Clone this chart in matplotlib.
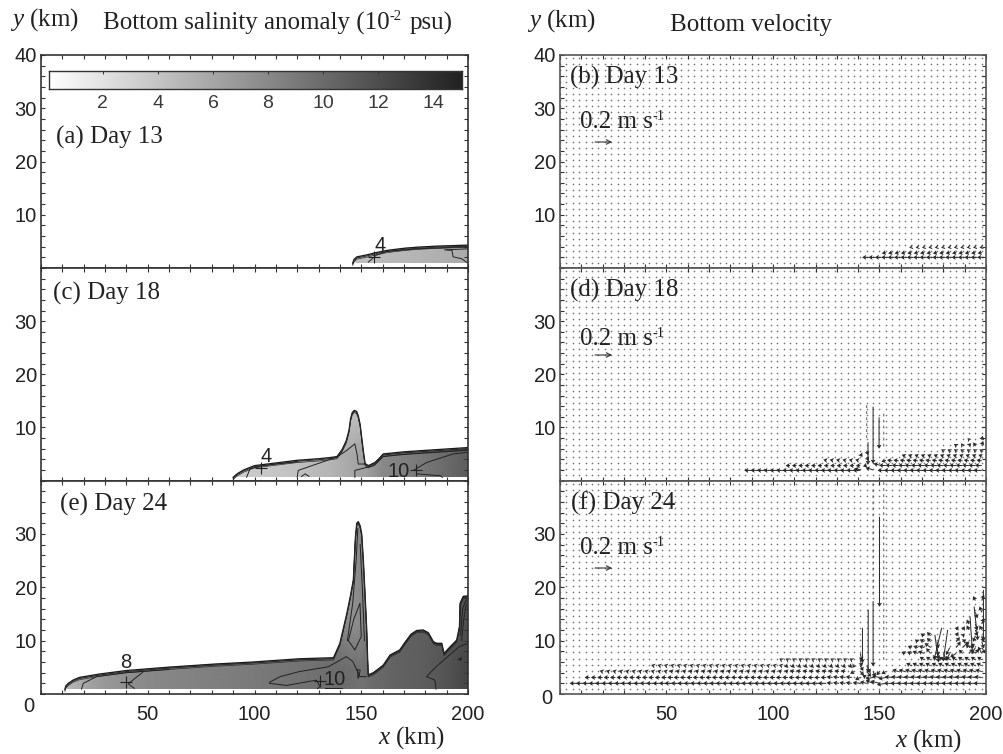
import numpy as np
import matplotlib
matplotlib.use("Agg")
import matplotlib.pyplot as plt
from matplotlib.colors import LinearSegmentedColormap
from matplotlib.patches import Polygon

W, H = 1004, 754
SERIF = "Liberation Serif"
SANS = "Liberation Sans"

plt.rcParams["font.family"] = SANS
plt.rcParams["mathtext.fontset"] = "custom"
plt.rcParams["mathtext.rm"] = SERIF
plt.rcParams["mathtext.it"] = SERIF + ":italic"

# plume outlines, km
a_bx = [146, 146.6, 148, 150, 153, 157, 162, 170, 176, 185, 200]
a_by = [0.9, 1.6, 2.1, 2.25, 2.5, 2.9, 3.3, 3.7, 3.9, 4.1, 4.3]
c_bx = [90, 92, 95, 100, 110, 120, 130, 135, 138.6, 141, 143, 144.3, 145, 145.8, 146.8, 147.8, 148.6, 149.5, 150.2,
        151, 151.8, 153.3, 156.5, 158.5, 160.3, 170, 185, 200]
c_by = [0.6, 1.3, 2.0, 2.8, 3.3, 3.8, 4.1, 4.3, 4.5, 5.8, 7.5, 9.5, 11.6, 12.8, 13.2, 13.0, 12.2, 10.5, 8.1,
        5.5, 3.2, 2.8, 3.4, 4.2, 5.0, 5.4, 5.8, 6.2]
e_bx = [11.2, 11.6, 12.8, 15, 18, 27.6, 40, 59, 81, 99.5, 121, 137, 140, 143.2, 145, 146.3, 146.8, 147.3, 147.9,
        148.6, 149.5, 150.2, 151, 151.8, 152.5, 153, 153.3, 155.7, 160.3, 163.5, 168, 170.2, 173.3, 176, 179, 181.4,
        183.8, 185.3, 187.7, 188.8, 190.8, 194.7, 196, 196.3, 197.8, 200]
e_by = [0.9, 1.5, 2.0, 2.6, 3.1, 3.75, 4.4, 5.0, 5.6, 6.0, 6.6, 6.8, 9.5, 15, 18.5, 21.4, 25.5, 29.5, 32,
        32.3, 31.5, 30, 25, 18.5, 12.6, 6.5, 3.6, 4.0, 5.4, 7.3, 8.25, 9.5, 11.2, 11.9, 12, 11.5,
        9.8, 9.5, 9.5, 7.6, 8.5, 10.1, 12.6, 17, 18.3, 18.4]

# salinity anomaly along the plume (low = near the coast, high = up in the jets)
a_sx = [140, 150, 160, 175, 190, 200]
a_low = [4.2, 4.3, 4.6, 5.0, 5.4, 5.8]
c_sx = [88, 100, 120, 135, 146, 152, 160, 180, 200]
c_low = [3.2, 3.6, 4.2, 5.0, 6.0, 6.5, 8.0, 9.2, 11.0]
c_high = [3.2, 3.6, 4.2, 4.5, 4.0, 4.5, 8.0, 9.2, 11.0]
e_sx = [10, 20, 30, 50, 75, 100, 125, 140, 145, 150, 155, 165, 180, 190, 200]
e_low = [4.5, 6.0, 7.0, 8.0, 8.5, 9.0, 9.6, 10.0, 9.8, 9.6, 10.0, 10.6, 11.0, 11.6, 12.6]
e_high = [4.5, 6.0, 7.0, 8.0, 8.5, 9.0, 9.6, 8.5, 7.5, 8.0, 9.5, 10.6, 11.0, 11.4, 12.0]

# inner contours
a_lines = [
    ([153.3, 157, 162, 176, 200], [1.1, 2.4, 3.1, 3.6, 4.0]),
    ([189, 200], [3.4, 3.6]),
    ([190, 192.5, 193, 197, 200], [3.4, 3.3, 2.1, 1.75, 0.9]),
]
c_lines = [
    ([96.3, 97.9, 102.6, 110, 120], [0.6, 2.2, 2.7, 3.1, 3.5]),
    ([120, 120.5, 129.1, 138.5, 143, 147, 148, 148.6, 151.8], [0.6, 1.9, 3.1, 4.4, 5.6, 6.9, 5, 3.1, 3.1]),
    ([122, 123.7, 125.5], [0.75, 1.25, 0.8]),
    ([147, 147, 155.9, 160.3, 170, 185, 200], [0.6, 1.9, 2.8, 4.5, 4.9, 5.3, 5.7]),
    ([174.4, 180.7, 193, 199.5], [1.9, 3.4, 5, 5.3]),
    ([176, 187, 188], [1.25, 0.9, 0.6]),
]
e_lines = [
    ([19, 19.8, 26, 40, 60], [0.9, 2.0, 3.25, 4.0, 4.6]),
    ([43.7, 40.9, 43, 48], [1.06, 1.9, 2.6, 4.2]),
    ([107, 112, 121, 134.6, 143, 146, 149.4, 152.5], [2.2, 3.25, 4.2, 5.1, 7, 6.1, 3.25, 3.25]),
    ([107, 115, 129, 130.7, 129.5], [2.0, 1.6, 2.6, 1.4, 1.0]),
    ([133, 141], [1.05, 1.05]),
    ([144, 146.5, 149.4, 150, 147, 144], [10, 14, 17, 10.75, 8.25, 10]),
    ([148.2, 148.4, 148.5, 149, 149.5, 148.2], [4.5, 3.5, 2.9, 3.5, 4.5, 4.5]),
    ([143.5, 146, 147.6, 148.4], [10, 17, 25, 31]),
    ([149.5, 150.5, 151.5], [28, 20, 10]),
    ([180.6, 185, 196, 200], [3.25, 5.1, 8.9, 9.5]),
    ([180.6, 184.5, 185], [3.25, 2.6, 0.9]),
    ([195.5, 196.5, 197, 195.5], [6.5, 6.3, 6.8, 6.5]),
    ([197, 198, 199, 200], [10, 14, 16.5, 17]),
    ([196.5, 197.5, 199, 200], [11, 16, 17.5, 17.8]),
]

# contour labels: text, text x, text y, cross x, cross y
a_marks = [("4", 158.8, 4.3, 156, 2.1)]
c_marks = [("4", 105.4, 4.5, 103, 2.4), ("10", 167.7, 1.75, 175.6, 2.0)]
e_marks = [("8", 39.8, 5.9, 40, 2.3), ("10", 137.4, 2.75, 130.7, 2.5)]

# velocity stretches: row y, first x, last x, u, v (m/s)
b_bands = [
    (2.0, 145, 200, -0.09, 0.0),
    (2.9, 153, 200, -0.055, -0.012),
    (3.9, 165, 200, -0.03, -0.006),
]
d_bands = [
    (1.9, 90, 141, -0.10, 0.0),
    (2.8, 108, 141, -0.06, 0.0),
    (3.8, 125, 141, -0.04, 0.008),
    (1.9, 153, 200, -0.11, 0.0),
    (2.8, 153, 200, -0.09, 0.005),
    (3.7, 156, 200, -0.07, 0.012),
    (4.6, 162, 200, -0.045, 0.018),
    (5.6, 180, 200, -0.03, 0.02),
]
f_bands = [
    (2.0, 8, 50, -0.10, 0.0),
    (2.0, 53, 125, -0.11, 0.0),
    (2.0, 128, 138, -0.08, 0.01),
    (2.0, 156, 200, -0.11, 0.0),
    (3.1, 14, 50, -0.07, 0.0),
    (3.1, 53, 125, -0.075, 0.0),
    (3.1, 128, 138, -0.08, 0.01),
    (3.1, 156, 200, -0.10, 0.01),
    (4.2, 20, 50, -0.04, 0.012),
    (4.2, 53, 107, -0.05, 0.012),
    (4.2, 110, 135, -0.06, 0.015),
    (4.2, 159, 200, -0.085, 0.025),
    (5.3, 44, 104, -0.035, 0.01),
    (5.3, 107, 138, -0.05, -0.015),
    (5.3, 165, 200, -0.07, 0.035),
    (6.4, 104, 137, -0.03, 0.018),
    (6.4, 171, 200, -0.06, 0.04),
]

# single arrows around the jets
d_x = [147, 149.8, 144.6, 141, 144, 147, 150, 144, 153, 144, 141,
       186, 189, 192, 195, 198, 192, 198]
d_y = [13.9, 11.9, 7.2, 2.0, 2.9, 2.0, 2.9, 4.4, 3.8, 5.6, 5.0,
       6.6, 6.6, 6.6, 6.6, 6.6, 7.7, 7.7]
d_u = [0.0, 0.0, 0.0, -0.08, -0.05, -0.1, -0.08, 0.03, -0.06, 0.02, 0.03,
       -0.03, -0.02, 0.03, -0.03, 0.02, -0.02, 0.015]
d_v = [-0.76, -0.42, -0.3, 0.02, -0.02, 0.03, 0.02, -0.05, -0.02, -0.06, -0.04,
       0.02, 0.03, 0.03, 0.04, 0.06, 0.02, 0.05]

f_x = [150, 147, 144.7, 142, 176, 179.2, 182, 192.5, 194.4, 198.8,
       138, 138, 141, 141, 141, 141, 141, 141, 144, 144, 144, 144,
       147, 147, 147, 150, 150, 150, 153, 153, 153]
f_y = [33.2, 17.4, 15.8, 12.4, 11.1, 12.4, 12.0, 14.5, 16.4, 19.5,
       4.2, 5.3, 2.0, 3.1, 4.2, 5.3, 6.4, 7.6, 2.0, 3.1, 4.2, 5.3,
       2.0, 3.1, 4.2, 2.0, 3.1, 4.2, 2.0, 3.1, 4.2]
f_u = [0.0, 0.0, 0.0, 0.0, 0.05, -0.1, -0.06, 0.03, 0.05, 0.0,
       -0.05, -0.02, -0.1, -0.07, 0.05, 0.04, 0.02, 0.02, -0.09, -0.06, 0.06, 0.05,
       -0.1, -0.1, 0.03, -0.12, -0.1, -0.04, -0.12, -0.1, -0.06]
f_v = [-1.2, -0.87, -0.84, -0.47, -0.37, -0.42, -0.42, -0.44, -0.45, -0.68,
       -0.03, -0.03, 0.01, -0.03, -0.05, -0.07, -0.09, -0.1, 0.02, 0.03, -0.07, -0.1,
       0.04, -0.02, -0.07, 0.03, 0.02, -0.05, -0.02, -0.02, -0.03]

f2_x = [162, 165, 168, 171, 174, 177, 180, 183, 186, 189, 192, 195, 198,
        165, 168, 171, 174, 177, 183, 186, 189, 192, 195, 198,
        168, 171, 174, 177, 186, 189, 192, 198,
        171, 174, 186, 189, 195, 198,
        186, 189, 192, 195, 198,
        192, 195, 198,
        195, 198, 198, 195]
f2_y = [7.6, 7.6, 7.6, 7.6, 7.6, 7.6, 7.6, 7.6, 7.6, 7.6, 7.6, 7.6, 7.6,
        8.7, 8.7, 8.7, 8.7, 8.7, 8.7, 8.7, 8.7, 8.7, 8.7, 8.7,
        9.8, 9.8, 9.8, 9.8, 9.8, 9.8, 9.8, 9.8,
        10.9, 10.9, 10.9, 10.9, 10.9, 10.9,
        12.0, 12.0, 12.0, 12.0, 12.0,
        13.1, 13.1, 13.1,
        15.3, 15.3, 17.5, 17.5]
f2_u = [-0.05, -0.06, -0.07, -0.08, -0.06, 0.03, 0.04, -0.05, -0.08, -0.05, 0.06, 0.05, -0.05,
        -0.05, -0.06, -0.07, -0.08, 0.02, -0.05, 0.06, 0.08, 0.08, -0.05, 0.05,
        -0.04, -0.06, -0.05, 0.02, 0.05, 0.05, -0.03, 0.03,
        -0.05, -0.05, 0.03, 0.03, -0.03, 0.03,
        0.03, 0.03, -0.03, 0.03, -0.03,
        -0.03, 0.03, 0.03,
        0.03, -0.03, 0.03, -0.03]
f2_v = [0.02, 0.02, 0.03, 0.03, 0.07, -0.08, -0.1, -0.09, -0.05, 0.05, 0.06, 0.06, 0.09,
        0.02, 0.02, 0.02, 0.06, -0.11, -0.1, 0.08, 0.08, 0.05, -0.09, -0.08,
        0.03, 0.03, 0.05, -0.09, 0.06, 0.03, -0.09, -0.09,
        0.03, 0.05, 0.05, 0.03, -0.08, -0.08,
        0.05, 0.05, 0.06, -0.08, 0.06,
        0.06, -0.08, 0.08,
        -0.08, 0.08, 0.08, 0.06]

# slow vertical columns above the jets: x, first y, last y, v
f_cols = [(147, 18.6, 40, 0.04), (152, 6.4, 40, 0.04)]
d_cols = [(144, 8, 14, 0.04), (152, 6.4, 13, 0.04)]

panel_rows = [(55, 268), (268, 480.5), (480.5, 694)]
cbar_ticks = [2, 4, 6, 8, 10, 12, 14]

cmap = LinearSegmentedColormap.from_list("bottom_salt", ["#ffffff", "#222222"])

fig = plt.figure(figsize=(W / 100, H / 100), dpi=100, facecolor="white")


def px_axes(x0, x1, y0, y1):
    return fig.add_axes([x0 / W, 1 - y1 / H, (x1 - x0) / W, (y1 - y0) / H])


def px_text(x, y, s, size=18, ha="left", family=SERIF, color="#222222"):
    fig.text(x / W, 1 - y / H, s, fontsize=size, ha=ha, va="center", family=family, color=color)


def style_axes(ax, y_labels, x_text, spine):
    ax.set_xlim(0, 200)
    ax.set_ylim(0, 40)
    ax.set_xticks(np.arange(0, 201, 10))
    ax.set_yticks(np.arange(0, 41, 2))
    ax.set_xticklabels([str(v) if x_text and v in (50, 100, 150, 200) else "" for v in range(0, 201, 10)])
    ax.set_yticklabels([str(v) if v in y_labels else "" for v in range(0, 41, 2)])
    ax.tick_params(axis="both", direction="in", length=3.2, width=0.8, top=True, right=True,
                   labelsize=14.5, color="#333333", labelcolor="#222222")
    ax.tick_params(axis="x", pad=8)
    ax.tick_params(axis="y", pad=3)
    for s in ax.spines.values():
        s.set_color(spine)
        s.set_linewidth(1.2)
        s.set_zorder(5)


def draw_plume(ax, bx, by, base, sx, low, high, lines, marks):
    outline = list(zip(bx, by)) + [(bx[-1], base), (bx[0] - 2.5, base)]
    mesh = ax.pcolormesh(sx, [0, 5, 13, 40], [low, low, high, high], shading="gouraud",
                         cmap=cmap, vmin=0, vmax=15)
    mesh.set_clip_path(Polygon(outline, transform=ax.transData))
    bx = np.array(bx)
    by = np.array(by)
    ax.plot(bx, by, color="#1c1c1c", lw=0.95)
    ax.plot(bx, by - 0.2, color="#222222", lw=0.6)
    ax.plot(bx, by - 0.42, color="#2a2a2a", lw=0.5)
    for lx, ly in lines:
        ax.plot(lx, ly, color="#222222", lw=0.7)
    for label, tx, ty, cx, cy in marks:
        ax.text(tx, ty, label, fontsize=14.5, ha="center", va="center", color="#222222")
        ax.plot(cx, cy, marker="+", ms=9, mew=0.8, color="#222222")


def draw_velocity(ax, bands, cols, vx, vy, vu, vv):
    # every point of the model grid gets a dot
    gx, gy = np.meshgrid(np.arange(0, 201, 3), np.arange(1.0, 40, 1.13))
    ax.scatter(gx.ravel(), gy.ravel(), s=1.5, color="#777777", linewidths=0)
    qx, qy, qu, qv = list(vx), list(vy), list(vu), list(vv)
    for row, x0, x1, u, v in bands:
        xs = np.arange(x0, x1 + 0.1, 3)
        qx += list(xs)
        qy += [row] * len(xs)
        qu += [u] * len(xs)
        qv += [v] * len(xs)
    # 0.2 m/s is drawn 15 pixels long whatever the axes aspect is
    ax.quiver(qx, qy, qu, qv, angles="uv", scale_units="dots", scale=0.2 / 15, units="dots",
              width=1.0, headwidth=5, headlength=4, headaxislength=3.4, minshaft=0.6,
              color="#2a2a2a", zorder=3)
    # the slow columns read as plain dashes
    for col, y0, y1, v in cols:
        ys = np.arange(y0, y1 + 0.1, 1.13)
        ax.quiver([col] * len(ys), ys, [0.0] * len(ys), [v] * len(ys), angles="uv", scale_units="dots",
                  scale=0.2 / 15, units="dots", width=1.0, headwidth=1, headlength=0.5, headaxislength=0.5,
                  color="#555555", zorder=3)


# left column
ax_a = px_axes(41, 468, *panel_rows[0])
ax_c = px_axes(41, 468, *panel_rows[1])
ax_e = px_axes(41, 468, *panel_rows[2])
draw_plume(ax_a, a_bx, a_by, 0.9, a_sx, a_low, a_low, a_lines, a_marks)
draw_plume(ax_c, c_bx, c_by, 0.6, c_sx, c_low, c_high, c_lines, c_marks)
draw_plume(ax_e, e_bx, e_by, 0.9, e_sx, e_low, e_high, e_lines, e_marks)
style_axes(ax_a, [10, 20, 30, 40], False, "#333333")
style_axes(ax_c, [10, 20, 30], False, "#333333")
style_axes(ax_e, [10, 20, 30], True, "#333333")

# right column
ax_b = px_axes(560, 986, *panel_rows[0])
ax_d = px_axes(560, 986, *panel_rows[1])
ax_f = px_axes(560, 986, *panel_rows[2])
draw_velocity(ax_b, b_bands, [], [], [], [], [])
draw_velocity(ax_d, d_bands, d_cols, d_x, d_y, d_u, d_v)
draw_velocity(ax_f, f_bands, f_cols, f_x + f2_x, f_y + f2_y, f_u + f2_u, f_v + f2_v)
style_axes(ax_b, [10, 20, 30, 40], False, "#555555")
style_axes(ax_d, [10, 20, 30], False, "#555555")
style_axes(ax_f, [10, 20, 30], True, "#555555")

# colour bar inside panel (a)
cax = px_axes(49, 462, 70.5, 89)
cax.imshow(np.linspace(0.04, 15.05, 256)[None, :], extent=[0.04, 15.05, 0, 1], aspect="auto",
           cmap=cmap, vmin=0, vmax=15)
cax.set_yticks([])
cax.set_xticks(cbar_ticks)
cax.set_xticklabels([str(t) for t in cbar_ticks])
cax.tick_params(axis="x", direction="in", length=2.2, width=0.7, top=True, bottom=False, pad=4,
                labelsize=14, color="#333333", labelcolor="#3a3a3a")
for s in cax.spines.values():
    s.set_color("#333333")
    s.set_linewidth(1.0)

# headers
px_text(10, 20, r"$\mathit{y}$ (km)", 18)
px_text(103, 23, "Bottom salinity anomaly (10", 18)
px_text(390, 16, "-2", 10.5)
px_text(410, 23, "psu)", 18)
px_text(527, 21, r"$\mathit{y}$ (km)", 18)
px_text(670, 25, "Bottom velocity", 18)
px_text(378, 738, r"$\mathit{x}$ (km)", 18)
px_text(895, 741, r"$\mathit{x}$ (km)", 18)
px_text(23, 707, "0", 14.5, family=SANS)
px_text(541, 698, "0", 14.5, family=SANS)

# panel names
for px, py, name in [(56, 137, "(a) Day 13"), (53, 293, "(c) Day 18"), (60, 504, "(e) Day 24"),
                     (570, 77, "(b) Day 13"), (570, 290, "(d) Day 18"), (571, 503, "(f) Day 24")]:
    px_text(px, py, name, 18)

# reference arrows on the velocity panels
for ax, ref_y, label_y in [(ax_b, 142, 122), (ax_d, 355, 339), (ax_f, 568, 548)]:
    px_text(580, label_y, "0.2 m s", 18)
    px_text(653, label_y - 6, "-1", 10.5)
    ax.annotate("", xy=(612, H - ref_y), xytext=(595, H - ref_y), xycoords="figure pixels",
                textcoords="figure pixels",
                arrowprops=dict(arrowstyle="->", lw=0.8, color="#333333", shrinkA=0, shrinkB=0,
                                mutation_scale=8))

fig.savefig("out.png", dpi=100, facecolor="white")
